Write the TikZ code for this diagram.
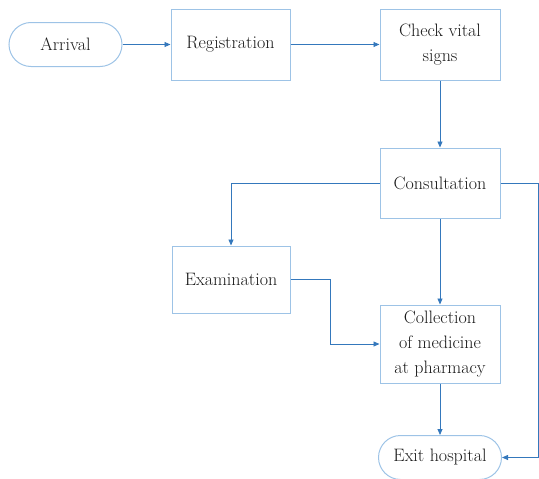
\documentclass[tikz,border=0pt]{standalone}
\usetikzlibrary{arrows.meta}
\definecolor{boxc}{HTML}{9DC3E6}
\definecolor{linec}{HTML}{3478BC}
\definecolor{txtc}{HTML}{1A1A1A}
\begin{document}
\begin{tikzpicture}[x=1pt,y=-1pt,
  base/.style={draw=boxc, line width=1pt, text=txtc, align=center, inner sep=0pt,
    font=\fontsize{18}{25}\selectfont},
  proc/.style={base, rectangle, minimum width=#1},
  term/.style={base, rectangle, rounded corners=22pt, minimum height=44pt, minimum width=#1},
  conn/.style={draw=linec, line width=0.8pt, -{Triangle[length=6pt,width=5pt]}}]
\clip (0,0) rectangle (539,479);
\useasboundingbox (0,0) rectangle (539,479);
\node[term=113pt] (arr) at (65.5,44.5) {Arrival};
\node[proc=119pt, minimum height=71pt] (reg) at (230.5,44.5) {Registration};
\node[proc=120pt, minimum height=71pt] (vit) at (440,44.5) {Check vital\\signs};
\node[proc=120pt, minimum height=70pt] (con) at (440,183) {Consultation};
\node[proc=118pt, minimum height=67pt] (exa) at (231,279.5) {Examination};
\node[proc=120pt, minimum height=78pt] (col) at (440,344) {Collection\\of medicine\\at pharmacy};
\node[term=123pt] (ext) at (440,457.5) {Exit hospital};
\coordinate (rt) at (538,183);
\coordinate (jog) at (330,279.5);
\draw[conn] (arr.east) -- (reg.west);
\draw[conn] (reg.east) -- (vit.west);
\draw[conn] (vit.south) -- (con.north);
\draw[conn] (con.west) -| (exa.north);
\draw[conn] (exa.east) -- (jog) |- (col.west);
\draw[conn] (con.south) -- (col.north);
\draw[conn] (col.south) -- (ext.north);
\draw[conn] (con.east) -- (rt) |- (ext.east);
\end{tikzpicture}
\end{document}
